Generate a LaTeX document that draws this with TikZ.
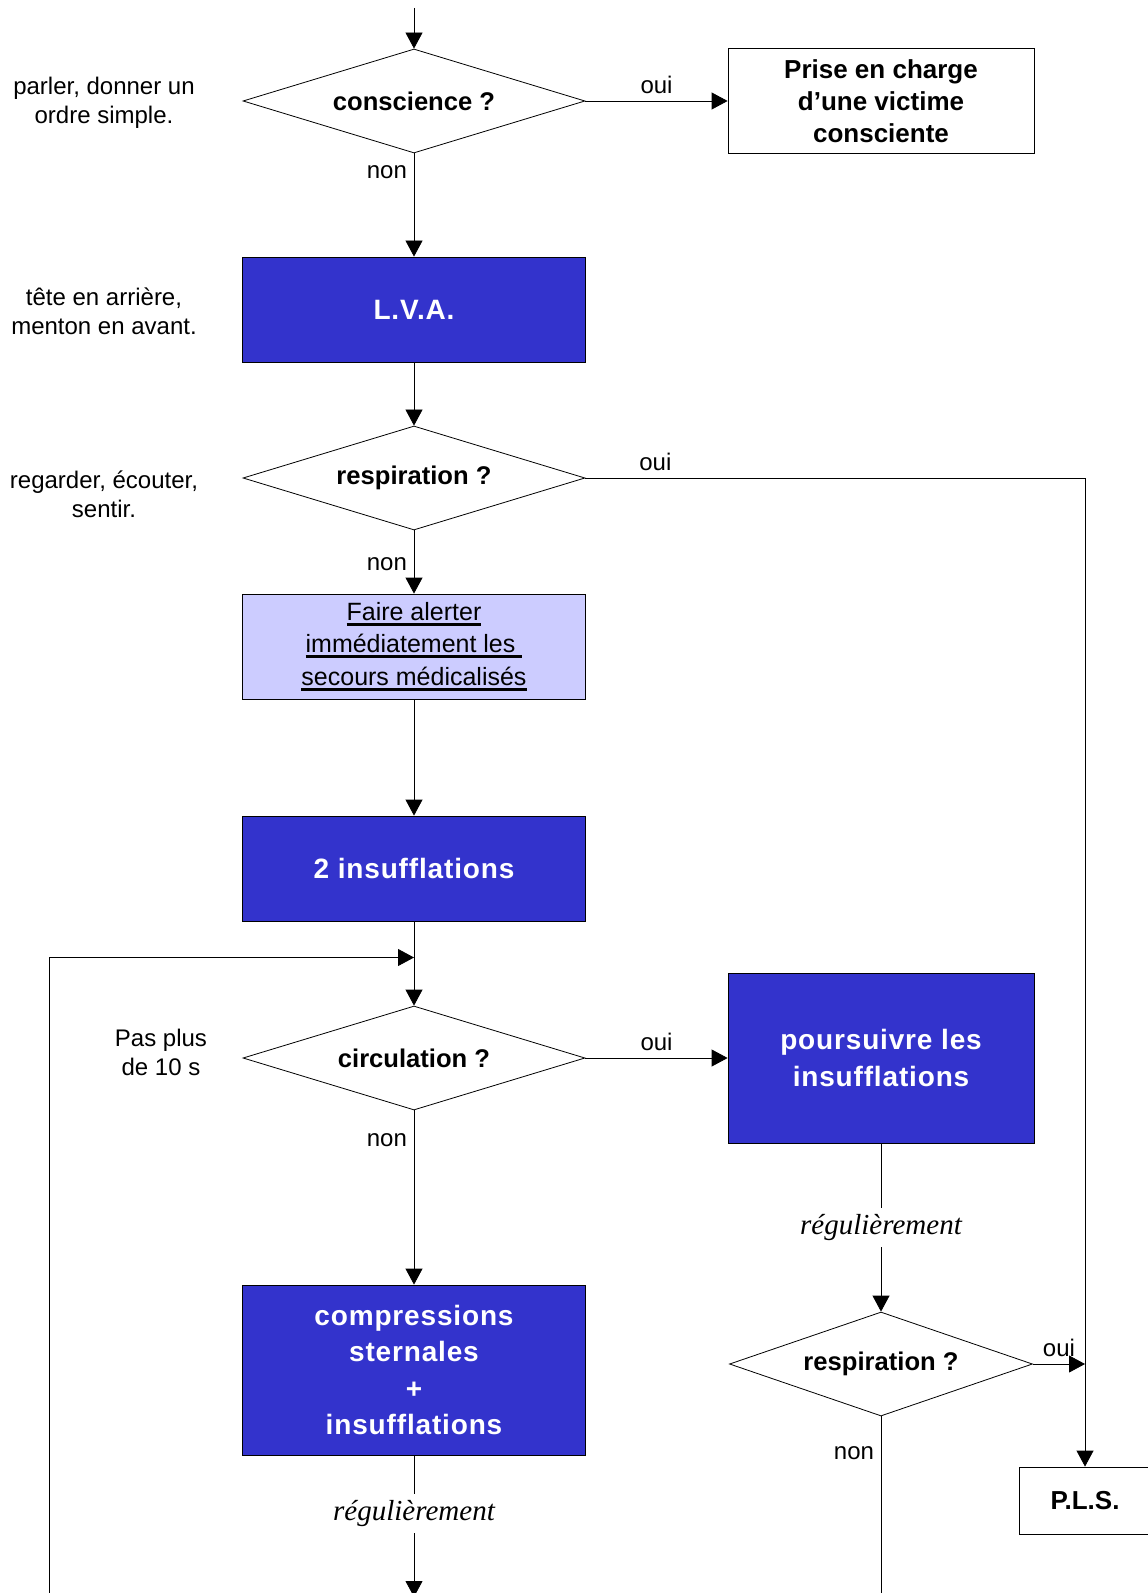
\documentclass[tikz,border=0pt]{standalone}
\usepackage{fontspec}
\setmainfont{Liberation Sans}
\newfontfamily\boxfont{Liberation Sans}[LetterSpace=3]
\newfontfamily\timesfont{Liberation Serif}
\usetikzlibrary{shapes.geometric,arrows.meta}
\definecolor{bleu}{HTML}{3333CC}
\definecolor{lavande}{HTML}{CCCCFF}
\newcommand{\souligne}[1]{\setbox0\hbox{#1}\rlap{\rule[-2.8pt]{\wd0}{1.5pt}}\box0}

\begin{document}
\begin{tikzpicture}
[x=0.5pt,y=-0.5pt,
question/.style={diamond, draw, thin, aspect=3.3, inner sep=0pt, minimum width=171pt, minimum height=52pt, font=\fontsize{12.8}{15}\selectfont\bfseries},
boite/.style={rectangle, draw, thin, minimum width=153pt, minimum height=52.5pt, align=center, font=\fontsize{13}{16}\selectfont\bfseries},
boitea/.style={boite, fill=bleu, minimum width=171.5pt, text=white, font=\boxfont\bfseries\fontsize{14}{18.3}\selectfont},
boiteb/.style={boite, fill=lavande, minimum width=171.5pt, font=\fontsize{12.5}{16.3}\selectfont},
remarque/.style={align=center, font=\fontsize{12}{14.5}\selectfont},
petit/.style={font=\fontsize{12}{14}\selectfont},
regul/.style={fill=white, inner sep=3pt, font=\timesfont\itshape\fontsize{14.5}{16}\selectfont},
fleche/.style={thin, -{Triangle[length=8pt,width=8.5pt]}},
]
\useasboundingbox (0,0) rectangle (1147,1593);

\node[question] (A) at (414,101) {conscience ?};
\node[boite] (B) at (881,101) {Prise en charge\\d’une victime\\consciente};
\node[boitea] (C) at (414,309.5) {L.V.A.};
\node[question] (D) at (414,478) {respiration ?};
\node[boiteb] (E) at (414,646.5) {\souligne{Faire alerter}\\\souligne{immédiatement les\ }\\\souligne{secours médicalisés}};
\node[boitea] (F) at (414,868.5) {2 insufflations};
\node[question] (G) at (414,1058) {circulation ?};
\node[boitea, minimum width=153pt, minimum height=85pt] (H) at (881,1058) {poursuivre les\\insufflations};
\node[boitea, minimum height=85pt] (I) at (414,1370) {compressions\\sternales\\+\\insufflations};
\node[question, minimum width=151.5pt] (J) at (881,1364) {respiration ?};
\node[boite, minimum width=66pt, minimum height=33.5pt] (K) at (1085,1500.5) {P.L.S.};

\node[remarque] (L) at (104,103) {parler, donner un\\ordre simple.};
\node[remarque] (M) at (104,311) {tête en arrière,\\menton en avant.};
\node[remarque] (N) at (104,494) {regarder, écouter,\\sentir.};
\node[remarque] (O) at (161,1052) {Pas plus\\de 10 s};

\coordinate (P) at (414,8);
\coordinate (Q) at (49,1600);
\coordinate (R) at (414,957.5);
\coordinate (S) at (414,1597);
\coordinate (T) at (1085,1364);
\coordinate (U) at (881,1600);

\draw[fleche] (P) -- (A);
\draw[fleche] (A) -- node[petit,above]{oui} (B);
\draw[fleche] (A) -- node[petit,left,pos=0.18]{non} (C);
\draw[fleche] (C) -- (D);
\draw[fleche] (D) -| node[petit,above,pos=0.07]{oui} (K);
\draw[fleche] (D) -- node[petit,left,pos=0.53]{non} (E);
\draw[fleche] (E) -- (F);
\draw[fleche] (F) -- (G);
\draw[fleche] (Q) |- (R);
\draw[fleche] (G) -- node[petit,above]{oui} (H);
\draw[fleche] (G) -- node[petit,left,pos=0.17]{non} (I);
\draw[fleche] (I) -- node[regul,pos=0.41]{régulièrement} (S);
\draw[fleche] (H) -- node[regul]{régulièrement} (J);
\draw[fleche] (J) -- node[petit,above]{oui} (T);
\draw (J) -- node[petit,left,pos=0.2]{non} (U);
\end{tikzpicture}
\end{document}
